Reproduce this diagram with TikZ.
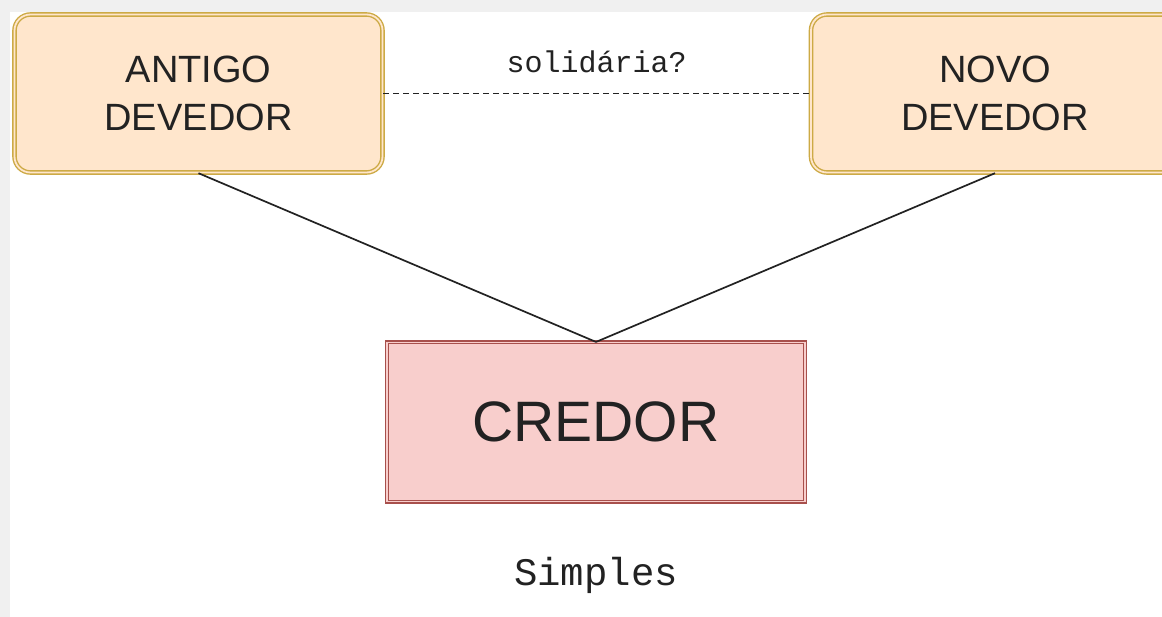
\documentclass[tikz,border=0pt]{standalone}
\usepackage{fontspec}
\usepackage{tikz}
\newfontfamily\boxfont{Liberation Sans}
\newfontfamily\codefont{Liberation Mono}

\definecolor{debfill}{HTML}{FFE6CC}
\definecolor{debline}{HTML}{CDAA45}
\definecolor{credfill}{HTML}{F8CECC}
\definecolor{credline}{HTML}{A8504C}
\definecolor{margin}{HTML}{F0F0F0}
\definecolor{ink}{HTML}{222222}

\tikzset{
  devedor/.style={rounded corners=16pt, draw=debline, double=debfill,
    double distance=1.8pt, line width=1.4pt, fill=debfill,
    minimum width=368pt, minimum height=158pt, align=center,
    text=ink, font=\boxfont\fontsize{38}{48}\selectfont},
  credor/.style={draw=credline, double=credfill, double distance=1.8pt,
    line width=1.1pt, fill=credfill, minimum width=418pt, minimum height=159pt,
    text=ink, font=\boxfont\fontsize{57}{62}\selectfont},
  rotulo/.style={text=ink, font=\codefont\fontsize{30}{34}\selectfont}
}

\begin{document}
\begin{tikzpicture}[x=1pt,y=-1pt]
\useasboundingbox (0,0) rectangle (1162,617);
\fill[white] (0,0) rectangle (1162,617);

% margin strips
\fill[margin] (0,0) rectangle (1162,12);
\fill[margin] (0,0) rectangle (10,617);

% boxes
\node[devedor] (antigo) at (198.5,93.5) {ANTIGO\\DEVEDOR};
\node[devedor] (novo) at (995,93.5) {NOVO\\DEVEDOR};
\node[credor] (credor) at (596,422) {CREDOR};

% links
\draw[ink, line width=1.7pt] (antigo.south) -- (credor.north);
\draw[ink, line width=1.7pt] (novo.south) -- (credor.north);
\draw[ink, line width=1.5pt, dash pattern=on 6pt off 4pt] (antigo.east) --
  node[rotulo, above=17pt] (solid) {solidária?} (novo.west);

% caption
\node[rotulo, font=\codefont\fontsize{39}{44}\selectfont] (simples) at (596,575) {Simples};

\end{tikzpicture}
\end{document}
